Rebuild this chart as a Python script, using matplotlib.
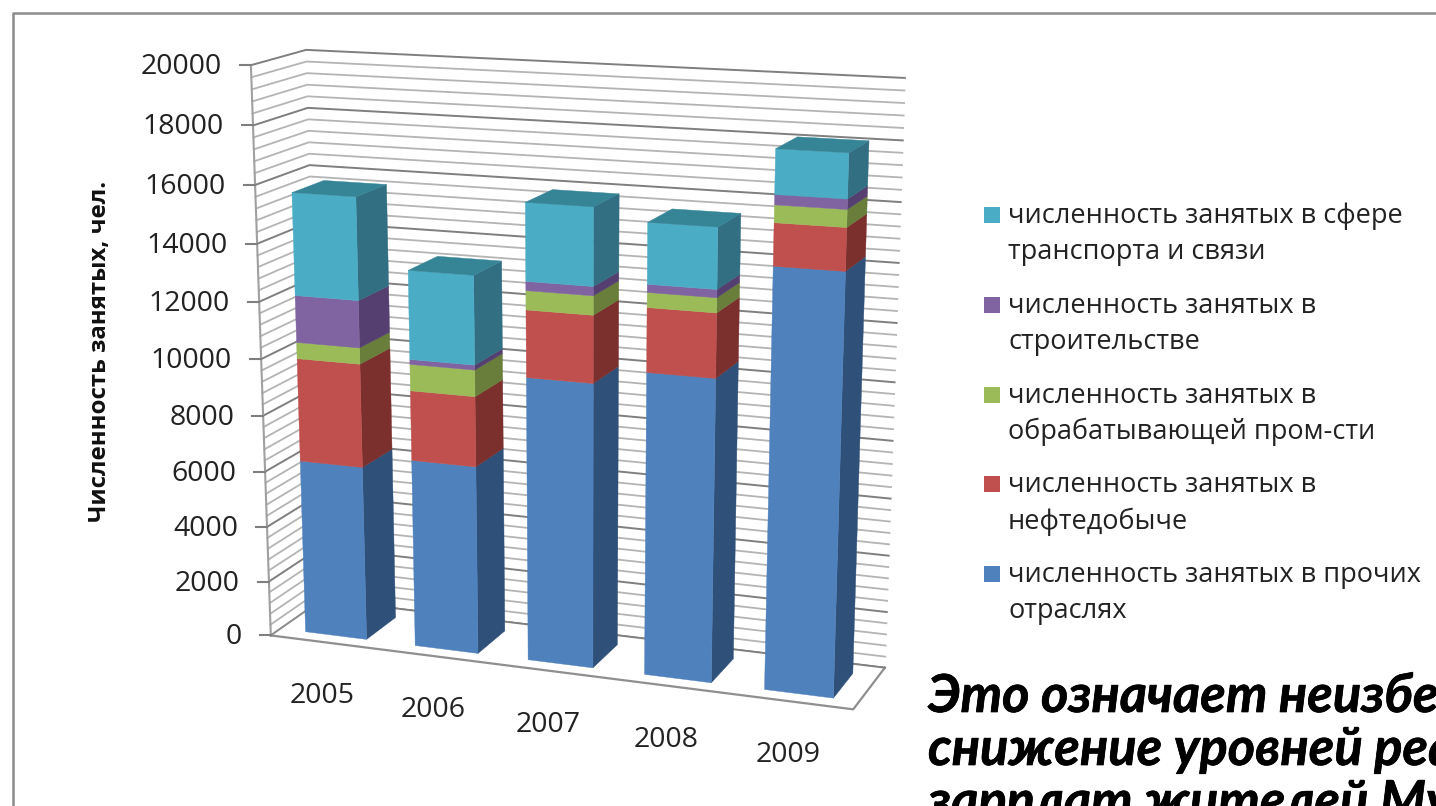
import numpy as np
import matplotlib
matplotlib.use('Agg')
import matplotlib.pyplot as plt
import matplotlib.patheffects as pe
from matplotlib.patches import Polygon, Rectangle

years = ['2005', '2006', '2007', '2008', '2009']
other = [6270, 6700, 9970, 10500, 14330]
oil = [3650, 2450, 2300, 2170, 1400]
manuf = [570, 920, 650, 500, 570]
constr = [1640, 170, 310, 270, 330]
transport = [3540, 3060, 2630, 2030, 1450]

series = [other, oil, manuf, constr, transport]
front_colors = ['#4f81bd', '#c0504d', '#9bbb59', '#8064a2', '#4bacc6']
side_colors = ['#2f5079', '#7b302e', '#687e3a', '#553f70', '#326f82']
top_color = '#368597'

legend_lines = [
    ('численность занятых в сфере', 'транспорта и связи'),
    ('численность занятых в', 'строительстве'),
    ('численность занятых в', 'обрабатывающей пром-сти'),
    ('численность занятых в', 'нефтедобыче'),
    ('численность занятых в прочих', 'отраслях'),
]
y_label = 'Численность занятых, чел.'
note_lines = ['Это означает неизбе', 'снижение уровней реа', 'зарплат жителей Му']

ymax = 20000
major = np.arange(0, 20001, 2000)
minor = np.arange(0, 20001, 400)

# corners of the chart box: (category pos, value, depth) -> pixel
box_world = [(0, 0, 0), (0, ymax, 0), (0, ymax, 1), (0, 0, 1), (5, ymax, 1), (5, 0, 1), (5, 0, 0)]
box_pixel = [(270, 635), (252, 65), (305, 50), (323, 600), (905, 78), (885, 667), (853, 710)]


def fit_camera(world, pixel):
    rows = []
    for (x, v, d), (u, w) in zip(world, pixel):
        p = [x / 5, v / ymax, d, 1]
        u, w = u / 1000, w / 1000
        rows.append(p + [0, 0, 0, 0] + [-u * c for c in p])
        rows.append([0, 0, 0, 0] + p + [-w * c for c in p])
    return np.linalg.svd(np.array(rows))[2][-1].reshape(3, 4)


cam = fit_camera(box_world, box_pixel)


def proj(x, v, d):
    q = cam @ np.array([x / 5, v / ymax, d, 1])
    return q[0] / q[2] * 1000, q[1] / q[2] * 1000


plt.rcParams['font.family'] = ['Open Sans', 'DejaVu Sans']
fig = plt.figure(figsize=(14.36, 8.06), dpi=100)
ax = fig.add_axes([0, 0, 1, 1])
ax.set_xlim(0, 1436)
ax.set_ylim(806, 0)
ax.axis('off')

# slide frame
ax.plot([13, 13, 1436], [806, 13, 13], color='#8c8c8c', lw=1.8)

# walls
for v in minor:
    col, lw = ('#7f7f7f', 1.4) if v in major else ('#b4b4b4', 1.3)
    pts = [proj(0, v, 0), proj(0, v, 1), proj(5, v, 1)]
    ax.plot(*zip(*pts), color=col, lw=lw, zorder=1)
ax.plot(*zip(proj(0, 0, 0), proj(0, ymax, 0)), color='#a0a0a0', lw=1.5, zorder=2)
floor = [proj(0, 0, 0), proj(5, 0, 0), proj(5, 0, 1), proj(0, 0, 1)]
ax.add_patch(Polygon(floor, closed=True, fc='white', ec='none', zorder=1.5))
ax.plot(*zip(*[proj(0, 0, 0), proj(5, 0, 0), proj(5, 0, 1)]), color='#8f8f8f', lw=1.6, zorder=2)
ax.plot(*zip(proj(0, 0, 0), proj(0, 0, 1)), color='#8f8f8f', lw=1.3, zorder=2)
ax.plot(*zip(proj(0, 0, 1), proj(5, 0, 1)), color='#7f7f7f', lw=1.3, zorder=2)

# value ticks and labels
for v in major:
    px, py = proj(0, v, 0)
    ax.plot([px - 11, px], [py, py], color='#7f7f7f', lw=1.5, zorder=2)
    ax.text(px - 29, py + 2, str(v), ha='right', va='center', fontsize=20.5, color='#222222')

ax.text(100, 351, y_label, rotation=90, ha='center', va='center', fontsize=17.3, fontweight='bold', color='#111111')

# bars
bar_w = 0.56
d0, d1 = 0.185, 0.78
for i, year in enumerate(years):
    x0 = i + (1 - bar_w) / 2 + 0.012
    x1 = x0 + bar_w
    base = 0
    z = 3 + i
    for vals, fc, sc in zip(series, front_colors, side_colors):
        top = base + vals[i]
        side = [proj(x1, base, d0), proj(x1, top, d0), proj(x1, top, d1), proj(x1, base, d1)]
        face = [proj(x0, base, d0), proj(x1, base, d0), proj(x1, top, d0), proj(x0, top, d0)]
        ax.add_patch(Polygon(side, closed=True, fc=sc, ec=sc, lw=0.3, zorder=z))
        ax.add_patch(Polygon(face, closed=True, fc=fc, ec=fc, lw=0.3, zorder=z))
        base = top
    cap = [proj(x0, base, d0), proj(x1, base, d0), proj(x1, base, d1), proj(x0, base, d1)]
    ax.add_patch(Polygon(cap, closed=True, fc=top_color, ec=top_color, lw=0.3, zorder=z))
    lx, ly = proj(i + 0.5, 0, 0)
    ax.text(lx - 3, ly + 54, year, ha='center', va='center', fontsize=20.5, color='#222222')

# legend
for n, (first, second) in enumerate(legend_lines):
    y = 215 + n * 89.8
    ax.add_patch(Rectangle((984, y - 8), 16, 16, fc=front_colors[4 - n], ec='none'))
    ax.text(1008, y + 1, first, ha='left', va='center', fontsize=19.5, color='#222222')
    ax.text(1008, y + 37, second, ha='left', va='center', fontsize=19.5, color='#222222')

# text below the legend
for n, line in enumerate(note_lines):
    t = ax.text(928, 712 + n * 53, line, ha='left', va='baseline', fontsize=37.7, family=['Lato', 'DejaVu Sans'],
                fontweight='bold', style='italic', color='black')
    t.set_path_effects([pe.withStroke(linewidth=0.5, foreground='black')])

fig.savefig('out.png', dpi=100)
